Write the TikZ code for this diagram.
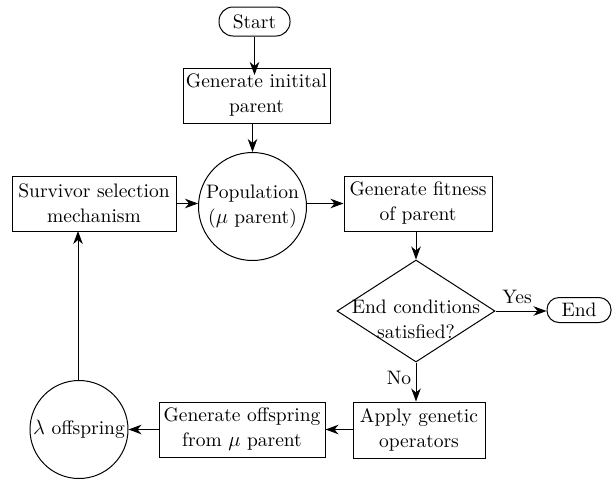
\documentclass[tikz,border=0pt]{standalone}
\usepackage{fontspec}
\setmainfont{lmroman10-regular.otf}[ItalicFont=lmroman10-italic.otf, BoldFont=lmroman10-bold.otf]
\usetikzlibrary{arrows.meta,shapes.geometric}
\begin{document}
\begin{tikzpicture}[x=1pt,y=-1pt,
  every node/.style={font=\rmfamily\fontsize{19.5}{25}\selectfont, inner sep=0pt},
  box/.style={draw, line width=1pt, rectangle, align=center},
  term/.style={draw, line width=1pt, rectangle, align=center},
  circ/.style={draw, line width=1pt, circle, align=center, inner sep=-20pt},
  dia/.style={draw, line width=1pt, diamond, inner sep=0pt},
  conn/.style={line width=1pt, -{Stealth[length=13pt,width=9.5pt,inset=4pt]}}
]
\useasboundingbox (0,0) rectangle (613,480);

\node[term, rounded corners=14pt, minimum width=71pt, minimum height=29pt] (start) at (254.5,21.5) {Start};
\node[box, minimum width=147pt, minimum height=55pt] (init) at (256.5,95.5) {Generate initital\\parent};
\node[box, minimum width=164pt, minimum height=55pt] (surv) at (94,203.5) {Survivor selection\\mechanism};
\node[circ, minimum size=108pt] (pop) at (252.5,206.5) {Population\\($\mu$ parent)};
\node[box, minimum width=148pt, minimum height=55pt] (fit) at (418,203.5) {Generate fitness\\of parent};
\node[dia, minimum width=158pt, minimum height=102pt] (dec) at (416,311) {};
\node[align=center] (dect) at (416,319) {End conditions\\satisfied?};
\node[term, rounded corners=12pt, minimum width=64pt, minimum height=25pt] (end) at (579,310) {End};
\node[box, minimum width=132pt, minimum height=56pt] (apply) at (419,430) {Apply genetic\\operators};
\node[box, minimum width=166pt, minimum height=55pt] (gen) at (242,429.5) {Generate offspring\\from $\mu$ parent};
\node[circ, minimum size=98pt] (lam) at (79,429.5) {$\lambda$ offspring};

\node (yes) at (517,297) {Yes};
\node (no) at (399,378) {No};

\draw[conn] (start.south -| init.north) ++(-2,0) -- ++(0,38.5);
\draw[conn] (init.south -| pop.north) -- (pop.north);
\draw[conn] (surv.east) -- (pop.west |- surv.east);
\draw[conn] (pop.east |- fit.west) -- (fit.west);
\draw[conn] (fit.south -| dec.north) -- (dec.north);
\draw[conn] (dec.east) -- (dec.east -| end.west);
\draw[conn] (dec.south) -- (dec.south |- apply.north);
\draw[conn] (apply.west |- gen.east) -- (gen.east);
\draw[conn] (gen.west) -- (lam.east);
\draw[conn] (lam.north -| surv.south) ++(-16,0) -- ++(0,-149);
\end{tikzpicture}
\end{document}
